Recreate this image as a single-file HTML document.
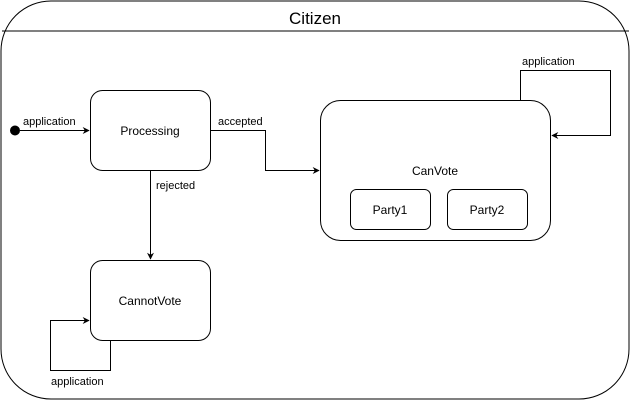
<!DOCTYPE html>
<html><head><meta charset="utf-8"><style>body{margin:0;background:#fff}</style></head><body>
<svg width="631" height="401" viewBox="0 0 631 401" xmlns="http://www.w3.org/2000/svg" font-family="Liberation Sans, Arial, sans-serif">
<defs><marker id="a" viewBox="0 0 10 10" refX="9" refY="5" markerWidth="7" markerHeight="7" orient="auto"><path d="M0,0 L10,5 L0,10 L3,5 Z" fill="#000"/></marker></defs>
<rect x="1" y="1" width="628" height="398" rx="50" fill="#fff" stroke="#000"/>
<line x1="2" y1="31" x2="629" y2="31" stroke="#000"/>
<text x="315" y="24" font-size="17" text-anchor="middle">Citizen</text>
<g fill="#fff" stroke="#000">
<rect x="90.5" y="90.5" width="120" height="80" rx="12"/>
<rect x="320.5" y="100.5" width="230" height="140" rx="20"/>
<rect x="350.5" y="189.5" width="80" height="40" rx="6"/>
<rect x="447.5" y="189.5" width="80" height="40" rx="6"/>
<rect x="90.5" y="260.5" width="120" height="80" rx="12"/>
</g>
<circle cx="15" cy="130.5" r="5" fill="#000"/>
<g stroke="#000" fill="none" marker-end="url(#a)">
<path d="M20,130.5 H89"/>
<path d="M210.5,130.5 H265.5 V170.5 H319"/>
<path d="M150.5,170.5 V259"/>
<path d="M520.5,100 V70.5 H610.5 V135.5 H552"/>
<path d="M110.5,341 V370.5 H50.5 V320.5 H89"/>
</g>
<g font-size="12" text-anchor="middle">
<text x="150" y="135">Processing</text>
<text x="435" y="175">CanVote</text>
<text x="390" y="214">Party1</text>
<text x="487" y="214">Party2</text>
<text x="150" y="305">CannotVote</text>
</g>
<g font-size="11">
<text x="23" y="125">application</text>
<text x="218" y="125">accepted</text>
<text x="156" y="189">rejected</text>
<text x="522" y="65">application</text>
<text x="51" y="385">application</text>
</g>
</svg>
</body></html>
